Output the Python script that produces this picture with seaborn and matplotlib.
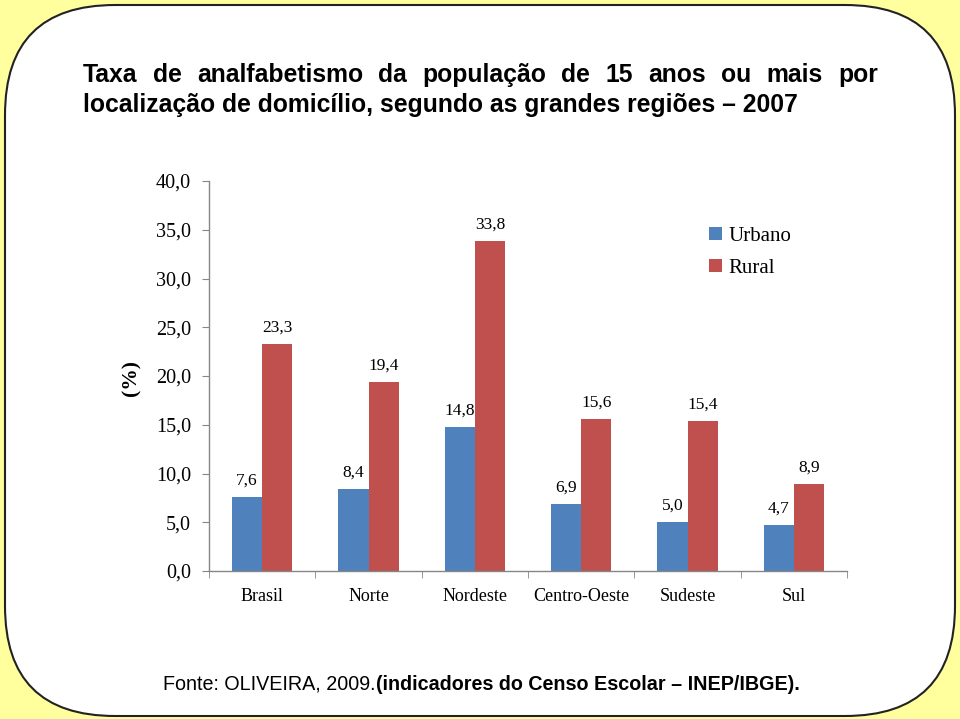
import matplotlib
matplotlib.use("Agg")
import matplotlib.pyplot as plt
from matplotlib.patches import FancyBboxPatch, Patch
import pandas as pd
import seaborn as sns

# dados do grafico
regioes = ["Brasil", "Norte", "Nordeste", "Centro-Oeste", "Sudeste", "Sul"]
urbano = [7.6, 8.4, 14.8, 6.9, 5.0, 4.7]
rural = [23.3, 19.4, 33.8, 15.6, 15.4, 8.9]
series = ["Urbano", "Rural"]
yticks = [0, 5, 10, 15, 20, 25, 30, 35, 40]

titulo1 = "Taxa de analfabetismo da população de 15 anos ou mais por"
titulo2 = "localização de domicílio, segundo as grandes regiões – 2007"

cores = {"Urbano": "#4F81BD", "Rural": "#C0504D"}
serif = "Liberation Serif"
sans = "Liberation Sans"

df = pd.DataFrame({
    "regiao": regioes * 2,
    "tipo": ["Urbano"] * len(regioes) + ["Rural"] * len(regioes),
    "taxa": urbano + rural,
})

sns.set_style("white")
plt.rcParams["text.color"] = "black"
plt.rcParams["xtick.color"] = "black"
plt.rcParams["ytick.color"] = "black"
fig = plt.figure(figsize=(9.6, 7.19), dpi=100, facecolor="#FFFF9E")

# painel branco arredondado
painel = FancyBboxPatch((0.05, 0.03), 9.5, 7.11,
                        boxstyle="round,pad=0,rounding_size=1.1",
                        transform=fig.dpi_scale_trans,
                        facecolor="white", edgecolor="#222222", linewidth=1.5, zorder=-5)
fig.patches.append(painel)

ax = fig.add_axes([209 / 960, 148 / 719, 638 / 960, 390 / 719])
ax.set_facecolor("none")

sns.barplot(data=df, x="regiao", y="taxa", hue="tipo", order=regioes, hue_order=series,
            palette=cores, width=0.566, saturation=1, linewidth=0, ax=ax, legend=False)

for cont, vals in zip(ax.containers, [urbano, rural]):
    ax.bar_label(cont, labels=[f"{v:.1f}".replace(".", ",") for v in vals],
                 padding=6, fontsize=12.5, fontfamily=serif)

ax.set_ylim(0, 40)
ax.set_xlim(-0.5, len(regioes) - 0.5)
ax.set_yticks(yticks)
ax.set_yticklabels([f"{v:.1f}".replace(".", ",") for v in yticks], fontsize=14.5, fontfamily=serif)
ax.set_xticks(range(len(regioes)))
ax.set_xticklabels(regioes, fontsize=13, fontfamily=serif)
ax.set_xticks([i - 0.5 for i in range(len(regioes) + 1)], minor=True)
ax.tick_params(axis="x", which="major", length=0, pad=12)
ax.tick_params(axis="x", which="minor", length=5, color="#868686", direction="out", bottom=True)
ax.tick_params(axis="y", length=5, color="#868686", direction="out", pad=8, left=True)
for s in ["top", "right"]:
    ax.spines[s].set_visible(False)
for s in ["left", "bottom"]:
    ax.spines[s].set_color("#868686")
    ax.spines[s].set_linewidth(1)
ax.set_xlabel("")
ax.set_ylabel("")

fig.text(131 / 960, 1 - 378 / 719, "(%)", rotation=90, ha="center", va="center",
         fontsize=15.5, fontweight="bold", fontfamily=serif)

handles = [Patch(facecolor=cores[s], edgecolor="none") for s in series]
ax.legend(handles, series, loc="upper left", bbox_to_anchor=(0.755, 0.93), frameon=False,
          prop={"family": serif, "size": 15}, handlelength=0.6, handleheight=0.6,
          handletextpad=0.3, labelspacing=0.6)

# titulo: primeira linha justificada entre x=83 e x=878
renderer = fig.canvas.get_renderer()
palavras = titulo1.split()
textos = [fig.text(0, 1 - 75 / 719, p, fontsize=17.8, fontweight="bold",
                   fontfamily=sans, va="center") for p in palavras]
larguras = [t.get_window_extent(renderer).width for t in textos]
espaco = (878 - 83 - sum(larguras)) / (len(palavras) - 1)
x = 83
for t, w in zip(textos, larguras):
    t.set_x(x / 960)
    x += w + espaco
fig.text(83 / 960, 1 - 105 / 719, titulo2,
         fontsize=17.8, fontweight="bold", fontfamily=sans, va="center")

t1 = fig.text(163 / 960, 1 - 684 / 719, "Fonte: OLIVEIRA, 2009.", fontsize=14.2,
              fontfamily=sans, va="center")
ax.annotate("(indicadores do Censo Escolar – INEP/IBGE).", xy=(1, 0.5), xycoords=t1,
            va="center", ha="left", fontsize=14.2, fontweight="bold", fontfamily=sans,
            annotation_clip=False)

fig.savefig("out.png", dpi=100, facecolor=fig.get_facecolor())
